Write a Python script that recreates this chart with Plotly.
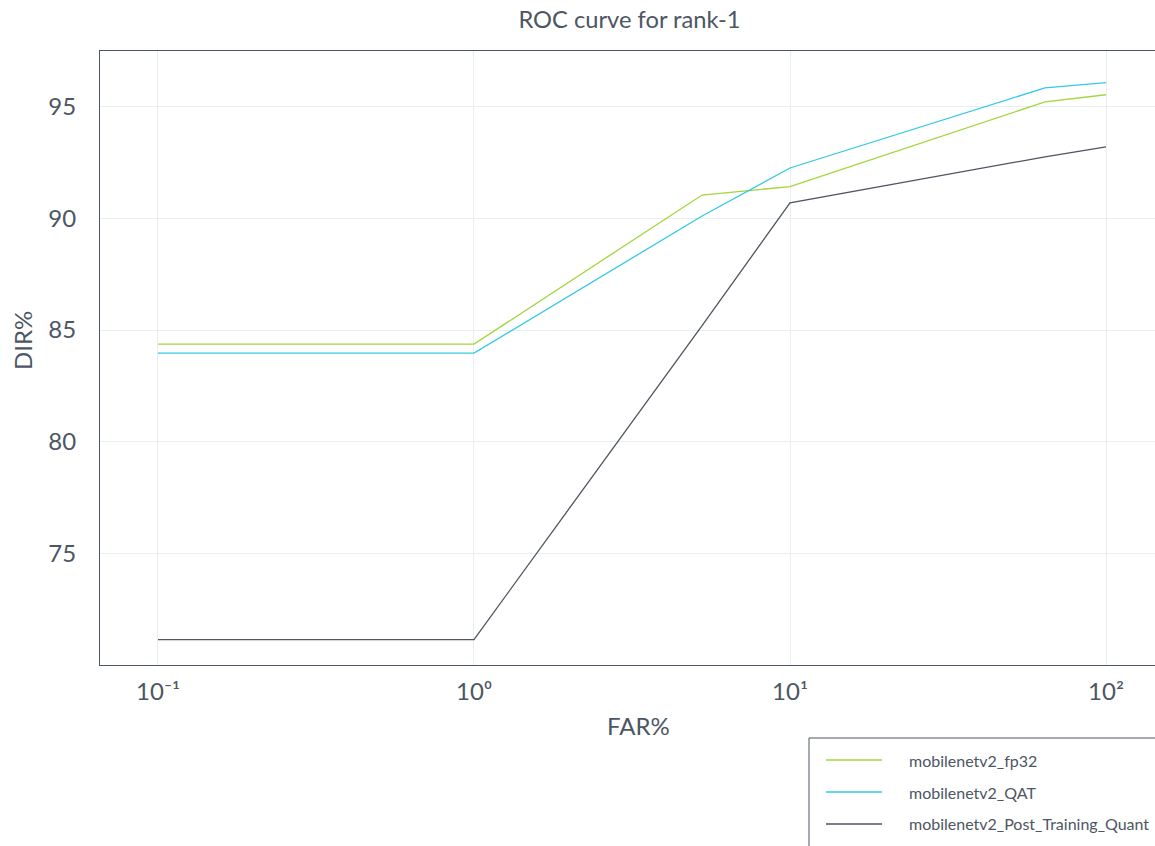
import plotly.graph_objects as go

# FAR% sampling points and DIR% for each model
far = [0.1, 1, 5.27, 10, 64.1, 100]
fp32 = [84.37, 84.37, 91.05, 91.43, 95.22, 95.54]
qat = [83.97, 83.97, 90.11, 92.26, 95.85, 96.08]
ptq = [71.14, 71.14, 85.2, 90.70, 92.76, 93.21]

names = ["mobilenetv2_fp32", "mobilenetv2_QAT", "mobilenetv2_Post_Training_Quant"]
colors = ["#A2D63C", "#33C9E6", "#4E5560"]
series = [fp32, qat, ptq]

x_tickvals = [0.1, 1, 10, 100]
x_ticktext = ["10⁻¹", "10⁰", "10¹", "10²"]
y_tickvals = [75, 80, 85, 90, 95]

TEXT = "#4D5663"
GRID = "#E9EEF0"

W, H = 1155, 846
L, T, B = 100, 51, 665          # plot-area edges in px
PW, PH = W - L, B - T


def px(x):
    return (x - L) / PW


def py(y):
    return (B - y) / PH


fig = go.Figure()
for name, vals, col in zip(names, series, colors):
    fig.add_trace(go.Scatter(x=far, y=vals, mode="lines", name=name,
                             line=dict(color=col, width=1.3), showlegend=False))

# Boxed legend below the plot, running off the right edge of the page
shapes = [dict(type="rect", xref="paper", yref="paper",
               x0=px(809), x1=px(1175), y0=py(738), y1=py(870),
               line=dict(color=TEXT, width=1), fillcolor="white", layer="above")]
annotations = []
for i, (name, col) in enumerate(zip(names, colors)):
    row_y = 760 + 32 * i
    shapes.append(dict(type="line", xref="paper", yref="paper",
                       x0=px(826), x1=px(882), y0=py(row_y), y1=py(row_y),
                       line=dict(color=col, width=1.3), layer="above"))
    annotations.append(dict(text=name, xref="paper", yref="paper",
                            x=px(907), y=py(row_y), xanchor="left", yanchor="middle",
                            showarrow=False, font=dict(size=16, color=TEXT)))

# Axis titles
annotations.append(dict(text="FAR%", xref="paper", yref="paper", x=px(638), y=py(725),
                        xanchor="center", yanchor="middle", showarrow=False,
                        font=dict(size=24, color=TEXT)))
annotations.append(dict(text="DIR%", xref="paper", yref="paper", x=px(22), y=py(341),
                        xanchor="center", yanchor="middle", showarrow=False,
                        textangle=-90, font=dict(size=24, color=TEXT)))

fig.update_layout(
    width=W, height=H,
    margin=dict(l=L, r=0, t=T, b=H - B),
    paper_bgcolor="white", plot_bgcolor="white",
    font=dict(family="Lato", color=TEXT),
    title=dict(text="ROC curve for rank-1", x=629.5 / W, xref="container",
               xanchor="center", y=1 - 20 / H, yanchor="middle",
               font=dict(size=23.7, color=TEXT)),
    showlegend=False,
    shapes=shapes,
    annotations=annotations,
)

fig.update_xaxes(type="log", range=[-1.1835, -1 + (W - 158) / 316], showgrid=True,
                 gridcolor=GRID, showline=True, linecolor=TEXT, linewidth=1, mirror=True,
                 tickvals=x_tickvals, ticktext=x_ticktext, zeroline=False,
                 tickfont=dict(size=24, color=TEXT), ticks="", ticklabelstandoff=5,
                 automargin=False)
fig.update_yaxes(range=[70, 97.5], tickvals=y_tickvals, showgrid=True, gridcolor=GRID,
                 showline=True, linecolor=TEXT, linewidth=1, mirror=False, zeroline=False,
                 tickfont=dict(size=24, color=TEXT), ticks="", ticklabelstandoff=18,
                 automargin=False)

fig.write_html("out.html")
